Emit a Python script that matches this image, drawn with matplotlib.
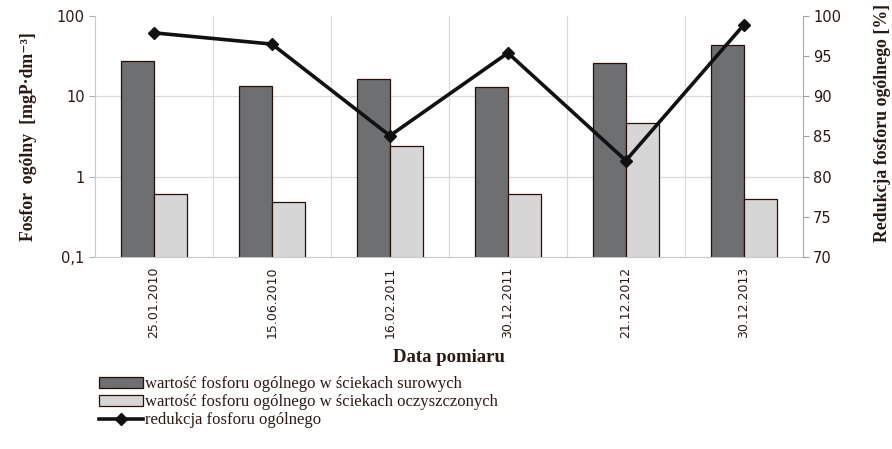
import matplotlib.pyplot as plt
import numpy as np

# --- data ---
dates = ["25.01.2010", "15.06.2010", "16.02.2011", "30.12.2011", "21.12.2012", "30.12.2013"]
raw_p = [27.9, 13.6, 16.2, 13.2, 26.3, 44.0]       # mgP/dm3, raw sewage
treated_p = [0.60, 0.49, 2.43, 0.61, 4.7, 0.53]    # mgP/dm3, treated sewage
reduction = [97.9, 96.5, 85.1, 95.4, 82.0, 98.9]   # %

serif = ["Liberation Serif", "DejaVu Serif"]
txt_col = "#2b1a14"
grid_col = "#d9d9d9"

fig = plt.figure(figsize=(8.92, 4.49), dpi=100)
ax = fig.add_axes([0.1065, 0.4276, 0.7935, 0.5368])

x = np.arange(len(dates))
w = 0.28
b1 = ax.bar(x - w / 2, raw_p, w, color="#6e6f71", edgecolor="#2a0f08", linewidth=0.9,
            label="wartość fosforu ogólnego w ściekach surowych", zorder=3)
b2 = ax.bar(x + w / 2, treated_p, w, color="#d6d6d6", edgecolor="#2a0f08", linewidth=0.9,
            label="wartość fosforu ogólnego w ściekach oczyszczonych", zorder=3)

ax.set_yscale("log")
ax.set_ylim(0.1, 100)
ax.set_xlim(-0.5, len(dates) - 0.5)
ax.set_yticks([0.1, 1, 10, 100])
ax.set_yticklabels(["0,1", "1", "10", "100"])
ax.minorticks_off()
ax.set_xticks(x)
ax.set_xticklabels(dates, rotation=90)
ax.tick_params(axis="x", length=0, pad=7, labelsize=9, labelcolor=txt_col)
ax.tick_params(axis="y", length=4, color="#b0b0b0", labelsize=10.5, labelcolor=txt_col)

# grid: horizontal at decades, vertical between categories
for yv in [1, 10]:
    ax.axhline(yv, color=grid_col, linewidth=0.9, zorder=0)
for xv in np.arange(0.5, len(dates) - 0.5, 1):
    ax.axvline(xv, color=grid_col, linewidth=0.9, zorder=0)

ax.spines["top"].set_visible(False)
ax.spines["right"].set_visible(False)
ax.spines["left"].set_color("#c8c8c8")
ax.spines["bottom"].set_color("#c8c8c8")

ax.set_ylabel("Fosfor  ogólny  [mgP·dm⁻³]", family=serif, fontweight="bold",
              fontsize=12.8, color=txt_col, labelpad=14)
ax.set_xlabel("Data pomiaru", family=serif, fontweight="bold", fontsize=13.5,
              color=txt_col, labelpad=8)

ax2 = ax.twinx()
ax2.set_position(ax.get_position())
ln, = ax2.plot(x, reduction, color="#111111", linewidth=2.6, marker="D", markersize=6,
               label="redukcja fosforu ogólnego", zorder=5)
ax2.set_ylim(70, 100)
ax2.set_yticks(np.arange(70, 101, 5))
ax2.tick_params(axis="y", length=4, color="#a0a0a0", labelsize=10.5, labelcolor=txt_col)
for s in ["top", "left", "bottom"]:
    ax2.spines[s].set_visible(False)
ax2.spines["right"].set_color("#a8a8a8")
ax2.set_ylabel("Redukcja fosforu ogólnego [%]", family=serif, fontweight="bold",
               fontsize=12.8, color=txt_col, rotation=90)
ax2.yaxis.set_label_coords(1.1, 0.555)

fig.legend(handles=[b1, b2, ln], loc="upper left", bbox_to_anchor=(0.104, 0.177),
           frameon=False, prop={"family": serif, "size": 12}, handlelength=2.6,
           handleheight=0.6, handletextpad=0.15, labelspacing=0.12, borderaxespad=0,
           labelcolor=txt_col)

fig.savefig("out.png", dpi=100)
